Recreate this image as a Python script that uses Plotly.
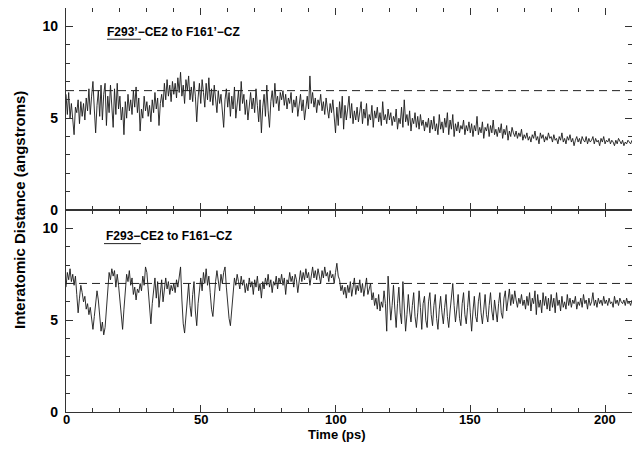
"""
Interatomic distance vs time, two stacked panels (Plotly).
"""

import plotly.graph_objects as go

# sampling interval of the trajectory (ps)
dt_ps = 0.5

# F293'-CE2 to F161'-CZ distance (angstroms), one row per 10 ps
dist_prime = [
    6.3, 5.2, 6.4, 5.0, 5.8, 4.9, 4.1, 5.6, 5.3, 6.0, 4.7, 5.9, 5.1, 5.8, 4.9, 6.1, 5.4, 6.6, 5.2, 6.2,
    7.0, 5.5, 4.2, 5.7, 6.5, 5.1, 6.8, 4.9, 6.3, 6.9, 4.6, 6.2, 5.3, 6.8, 5.8, 4.5, 6.6, 5.2, 6.9, 5.5,
    6.2, 4.9, 5.6, 4.1, 5.9, 5.0, 6.3, 5.4, 6.0, 5.2, 6.5, 5.6, 6.7, 5.3, 6.1, 4.3, 5.5, 5.0, 6.2, 5.4,
    5.9, 5.1, 5.7, 4.8, 6.0, 5.3, 6.4, 5.5, 6.1, 4.6, 5.8, 6.3, 5.6, 6.9, 6.0, 7.1, 6.2, 6.8, 5.9, 7.0,
    6.3, 6.9, 6.1, 7.2, 6.4, 7.5, 6.2, 6.8, 5.8, 7.1, 6.5, 7.3, 6.0, 6.7, 5.9, 7.0, 6.2, 4.8, 6.1, 6.9,
    5.8, 7.1, 6.4, 5.6, 6.9, 6.0, 7.2, 5.9, 6.6, 5.7, 6.8, 6.1, 5.3, 6.5, 5.8, 6.3, 5.4, 4.5, 6.0, 6.6,
    5.6, 6.4, 5.1, 6.2, 5.5, 6.7, 5.0, 5.9, 6.5, 5.4, 7.0, 5.8, 6.3, 5.2, 6.0, 4.9, 5.7, 6.4, 5.5, 6.1,
    5.3, 6.6, 5.7, 4.8, 6.0, 4.2, 5.6, 6.3, 5.1, 6.8, 5.4, 4.5, 5.9, 6.5, 5.6, 6.9, 5.8, 6.2, 5.4, 6.4,
    6.0, 6.5, 5.7, 6.3, 5.5, 6.1, 5.8, 6.4, 5.3, 6.0, 5.6, 6.2, 5.1, 5.9, 6.3, 5.4, 6.0, 4.9, 5.7, 6.2,
    5.5, 7.3, 5.8, 6.4, 5.6, 6.1, 5.3, 6.0, 5.7, 6.3, 5.4, 5.9, 5.2, 6.1, 5.5, 5.0, 5.8, 5.3, 6.0, 5.1,
    4.2, 5.6, 4.6, 5.9, 5.0, 6.2, 4.4, 5.7, 4.9, 5.5, 6.2, 5.0, 5.8, 4.7, 5.4, 4.9, 5.6, 4.8, 5.3, 5.9,
    4.7, 5.5, 5.0, 5.8, 4.6, 5.2, 4.9, 5.7, 4.5, 5.4, 5.0, 5.6, 4.8, 5.3, 4.6, 5.9, 4.9, 5.2, 4.7, 5.5,
    4.9, 5.3, 4.6, 5.1, 4.8, 5.5, 4.4, 5.0, 4.7, 5.6, 4.5, 6.0, 4.8, 5.2, 4.6, 5.4, 4.3, 5.0, 4.7, 5.3,
    4.5, 5.1, 4.4, 5.2, 4.6, 4.9, 4.3, 4.8, 4.5, 5.0, 4.2, 4.9, 4.4, 5.1, 4.3, 4.7, 4.1, 5.2, 4.4, 4.8,
    4.2, 5.0, 4.5, 5.3, 4.1, 4.9, 4.4, 5.2, 4.0, 4.7, 4.3, 4.8, 4.2, 4.6, 4.4, 4.9, 4.1, 4.6, 4.3, 4.8,
    4.2, 4.7, 4.0, 4.6, 4.3, 5.1, 4.1, 4.5, 4.2, 4.8, 3.9, 4.5, 4.3, 4.7, 4.0, 4.6, 4.2, 4.9, 4.1, 4.4,
    4.0, 4.5, 4.2, 4.7, 3.9, 4.4, 4.1, 4.6, 3.8, 4.3, 4.0, 4.5, 4.2, 4.0, 4.3, 3.9, 4.2, 4.0, 4.4, 3.8,
    4.1, 3.9, 4.2, 3.8, 4.0, 3.7, 4.1, 3.9, 4.3, 3.8, 4.0, 3.6, 4.2, 3.9, 4.1, 3.7, 4.0, 3.8, 4.2, 3.9,
    4.0, 3.7, 4.1, 3.8, 3.9, 3.6, 4.0, 3.8, 4.2, 3.7, 3.9, 3.6, 4.0, 3.8, 4.1, 3.7, 3.9, 3.5, 3.8, 4.0,
    3.7, 3.9, 3.6, 4.0, 3.8, 3.7, 4.0, 3.6, 3.9, 3.7, 3.8, 4.0, 3.6, 3.9, 3.7, 3.8, 3.5, 3.9, 3.7, 4.0,
    3.6, 3.8, 3.7, 3.9, 3.6, 3.8, 3.7, 3.5, 3.8, 3.6, 3.9, 3.7, 3.6, 3.8, 3.5, 3.7, 3.6, 3.8, 3.7, 3.6,
    3.8,
]

# F293-CE2 to F161-CZ distance (angstroms), one row per 10 ps
dist_plain = [
    6.8, 7.6, 7.2, 7.8, 7.1, 7.5, 6.9, 7.4, 6.4, 5.4, 6.2, 6.9, 6.5, 6.0, 6.3, 5.6, 5.9, 5.3, 5.7, 5.0,
    4.5, 5.2, 5.9, 6.6, 6.1, 5.3, 4.4, 4.9, 4.2, 4.6, 5.8, 6.9, 7.6, 7.2, 7.8, 7.4, 7.7, 6.8, 7.5, 6.9,
    6.2, 5.3, 4.5, 5.6, 6.8, 7.5, 7.1, 7.7, 6.9, 7.3, 6.4, 6.8, 6.1, 6.7, 6.5, 7.0, 6.6, 7.4, 6.9, 7.9,
    7.6, 6.5, 5.4, 4.8, 5.9, 6.8, 7.3, 6.2, 7.1, 5.7, 6.6, 7.2, 6.0, 6.9, 7.3, 6.7, 7.1, 6.4, 6.9, 6.6,
    7.0, 6.5, 7.2, 6.8, 7.4, 7.9, 6.1, 4.8, 4.3, 5.1, 6.2, 7.0, 5.8, 5.2, 6.4, 7.1, 5.5, 4.7, 5.9, 6.8,
    7.3, 6.6, 7.6, 7.0, 7.8, 6.9, 7.4, 6.5, 5.6, 5.2, 6.3, 7.1, 7.7, 7.2, 6.6, 7.5, 7.0, 7.6, 7.9, 6.8,
    5.9, 5.1, 4.7, 5.5, 6.6, 7.3, 6.9, 7.5, 7.1, 6.7, 7.4, 6.9, 7.2, 6.5, 7.0, 6.6, 7.3, 6.8, 7.1, 6.4,
    7.2, 6.8, 7.4, 6.6, 7.0, 6.2, 7.1, 6.7, 7.3, 6.9, 7.5, 6.8, 7.2, 6.5, 7.1, 6.9, 7.4, 6.7, 7.3, 7.0,
    7.5, 6.9, 7.3, 6.4, 7.2, 7.0, 7.6, 7.1, 7.4, 6.8, 7.5, 7.2, 6.5, 7.3, 7.7, 7.1, 7.6, 7.2, 7.8, 7.3,
    7.6, 6.9, 7.5, 7.9, 7.3, 7.7, 7.2, 7.8, 7.4, 7.0, 7.7, 7.3, 7.9, 7.4, 7.6, 7.1, 7.7, 7.3, 7.5, 7.0,
    7.6, 8.1, 7.4, 7.2, 6.6, 6.9, 6.4, 6.8, 6.2, 6.9, 6.5, 7.1, 6.3, 6.8, 7.3, 6.4, 6.9, 6.6, 7.2, 6.5,
    7.0, 6.3, 6.8, 7.3, 6.4, 6.7, 7.0, 6.1, 6.5, 5.8, 6.2, 5.6, 6.4, 5.5, 6.0, 5.7, 6.6, 5.9, 4.4, 7.4,
    6.2, 5.0, 5.8, 6.9, 5.6, 4.6, 5.9, 6.8, 5.4, 4.8, 7.1, 5.9, 4.4, 5.3, 6.4, 5.5, 4.9, 5.8, 6.5, 5.2,
    4.6, 5.4, 6.6, 5.7, 4.5, 5.9, 6.3, 5.0, 4.6, 6.0, 6.5, 5.3, 4.7, 5.8, 6.4, 5.1, 4.5, 5.6, 6.3, 5.4,
    4.8, 5.7, 6.4, 5.2, 4.6, 5.5, 6.2, 7.0, 5.8, 4.9, 5.6, 6.4, 5.1, 4.7, 5.9, 6.5, 5.3, 4.8, 5.7, 6.6,
    5.4, 4.4, 5.5, 6.3, 5.2, 4.9, 6.0, 6.5, 5.4, 4.8, 5.6, 6.4, 5.3, 4.9, 5.8, 6.5, 5.5, 5.0, 6.1, 5.3,
    4.9, 5.9, 6.5, 5.4, 5.1, 6.2, 6.6, 5.5, 6.0, 6.7, 5.8, 6.4, 5.9, 6.6, 6.1, 5.7, 6.2, 5.9, 6.4, 5.8,
    6.1, 5.6, 6.3, 5.8, 6.5, 5.5, 6.2, 5.9, 6.6, 5.3, 6.4, 5.7, 6.1, 5.4, 6.5, 5.8, 6.3, 5.6, 6.2, 5.5,
    6.4, 5.7, 6.2, 5.4, 6.5, 5.8, 6.1, 5.5, 6.3, 5.7, 6.0, 5.6, 6.4, 5.8, 6.2, 5.7, 6.1, 5.9, 6.3, 5.6,
    6.0, 5.8, 6.2, 5.7, 6.4, 5.9, 6.1, 5.6, 6.2, 5.8, 6.0, 6.5, 5.8, 6.1, 5.7, 6.2, 5.9, 6.1, 5.8, 6.3,
    5.9, 6.1, 5.8, 6.2, 5.9, 6.0, 5.7, 6.3, 5.9, 6.1, 5.8, 6.2, 6.0, 5.9, 6.1, 5.8, 6.2, 5.9, 6.0, 5.8,
    6.1,
]

# reference (starting) distances, drawn dashed
ref_prime = 6.5
ref_plain = 7.0

label_prime = "F293’−CE2 to F161’−CZ"
label_plain = "F293−CE2 to F161−CZ"

x_range = [0, 210]
y_range = [0, 11]
x_ticks = [0, 50, 100, 150, 200]
y_ticks = [0, 5, 10]

FONT = "Liberation Sans, Arial, sans-serif"

time_prime = [i * dt_ps for i in range(len(dist_prime))]
time_plain = [i * dt_ps for i in range(len(dist_plain))]

fig = go.Figure()

# 데이터 트레이스
fig.add_trace(go.Scatter(x=time_prime, y=dist_prime, mode="lines",
                         line=dict(color="#1a1a1a", width=0.9),
                         xaxis="x2", yaxis="y", showlegend=False))
fig.add_trace(go.Scatter(x=time_plain, y=dist_plain, mode="lines",
                         line=dict(color="#1a1a1a", width=0.9),
                         xaxis="x", yaxis="y2", showlegend=False))

axis_common = dict(
    showline=True, linecolor="#333", linewidth=1.2, mirror="ticks",
    ticks="inside", tickcolor="#333", showgrid=False, zeroline=False,
    automargin=False,
    tickfont=dict(family=FONT, size=14, color="black", weight="bold"),
)

# x 눈금 라벨은 아래에서 직접 배치 (축 제목과 간격 확보)
x_common = dict(axis_common, range=x_range, tickvals=x_ticks, ticklen=7,
                showticklabels=False,
                minor=dict(dtick=10, ticks="inside", ticklen=4, tickcolor="#333"))
y_common = dict(axis_common, range=y_range, tickvals=y_ticks, ticklen=7,
                ticklabelstandoff=4,
                minor=dict(dtick=1, ticks="inside", ticklen=4, tickcolor="#333"))

# 페이지 여백(8px)을 감안한 크기
fig.update_layout(
    template="none",
    width=624, height=435,
    margin=dict(l=58, r=0, t=0, b=31, autoexpand=False),
    paper_bgcolor="white", plot_bgcolor="white",
    xaxis=dict(x_common, anchor="y2", domain=[0, 1]),
    xaxis2=dict(x_common, anchor="y", matches="x"),
    yaxis=dict(y_common, anchor="x2", domain=[0.5, 1]),
    yaxis2=dict(y_common, anchor="x", domain=[0, 0.5]),
    showlegend=False,
)

for tv in x_ticks:
    fig.add_annotation(xref="x", yref="paper", x=tv, y=-0.0198, text=str(tv),
                       showarrow=False, xanchor="center", yanchor="middle",
                       borderpad=0,
                       font=dict(family=FONT, size=13, color="black", weight="bold"))

# 기준선 (dashed)
fig.add_shape(type="line", xref="x2", yref="y", x0=x_range[0], x1=x_range[1],
              y0=ref_prime, y1=ref_prime, line=dict(color="#222", width=1, dash="8px,5px"))
fig.add_shape(type="line", xref="x", yref="y2", x0=x_range[0], x1=x_range[1],
              y0=ref_plain, y1=ref_plain, line=dict(color="#222", width=1, dash="8px,5px"))

# 패널 라벨 + 밑줄 샘플
fig.add_annotation(xref="x2", yref="y", x=14.5, y=9.72, text=label_prime, showarrow=False,
                   xanchor="left", yanchor="middle",
                   font=dict(family=FONT, size=12, color="black", weight="bold"))
fig.add_annotation(xref="x", yref="y2", x=14.1, y=9.6, text=label_plain, showarrow=False,
                   xanchor="left", yanchor="middle",
                   font=dict(family=FONT, size=12, color="black", weight="bold"))
fig.add_shape(type="line", xref="x2", yref="y", x0=15.2, x1=27.8, y0=9.3, y1=9.3,
              line=dict(color="#222", width=1))
fig.add_shape(type="line", xref="x", yref="y2", x0=14.1, x1=27.8, y0=9.17, y1=9.17,
              line=dict(color="#222", width=1))

# 축 제목
fig.add_annotation(xref="paper", yref="paper", x=-0.083, y=0.5, textangle=-90,
                   text="Interatomic Distance (angstroms)", showarrow=False,
                   xanchor="center", yanchor="middle",
                   font=dict(family=FONT, size=15, color="black", weight="bold"))
fig.add_annotation(xref="paper", yref="paper", x=0.479, y=-0.0767,
                   text="Time (ps)", showarrow=False, borderpad=0,
                   xanchor="center", yanchor="bottom",
                   font=dict(family=FONT, size=13, color="black", weight="bold"))

fig.write_html("out.html")
